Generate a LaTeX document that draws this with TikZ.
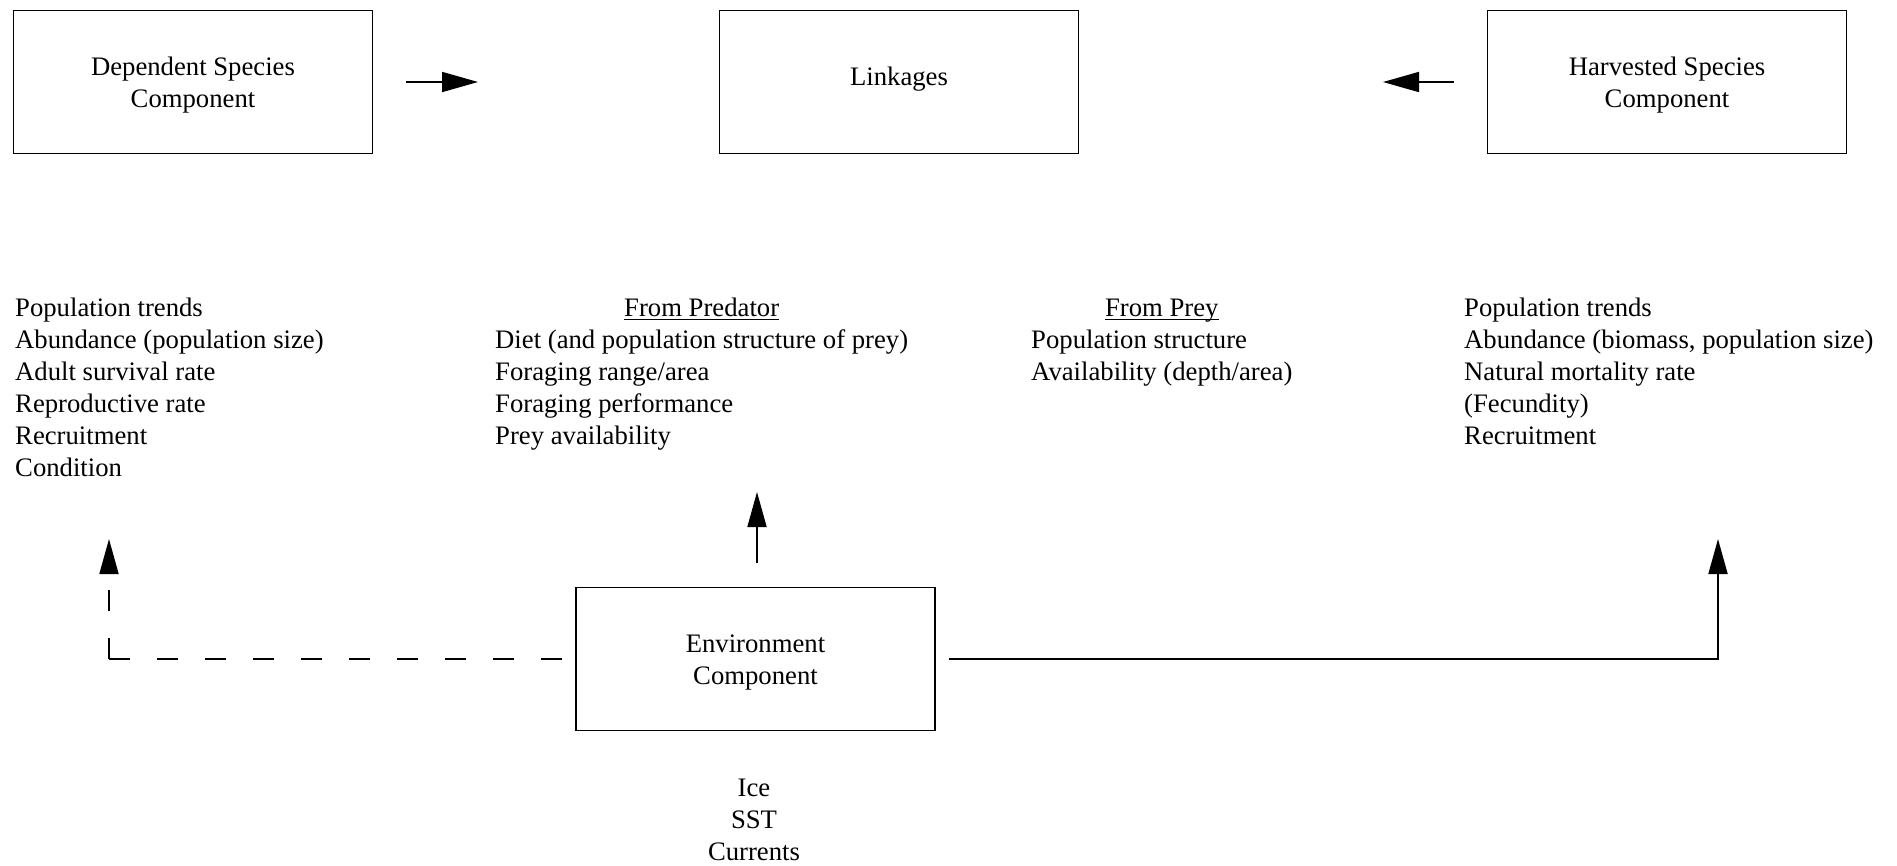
\documentclass[tikz,border=0pt]{standalone}
\usepackage{fontspec}
\setmainfont{Liberation Serif}
\usetikzlibrary{arrows.meta}
\newcommand\hdrul[1]{\setbox0\hbox{#1}\rlap{\rule[-4pt]{\wd0}{1.5pt}}\box0}
\newcommand\boxstrut{\rule{0pt}{25pt}}
\begin{document}
\begin{tikzpicture}[x=1pt,y=-1pt,
  bigfont/.style={font=\fontsize{26.7}{32}\selectfont},
  box/.style={draw, line width=1.8pt, minimum width=359pt, minimum height=143pt, inner sep=0pt, align=center, bigfont},
  txt/.style={inner sep=0pt, anchor=base west, bigfont},
  conn/.style={line width=1.8pt},
  tipH/.style={-{Triangle[length=36pt,width=20pt]}},
  tipV/.style={-{Triangle[length=35pt,width=19pt]}},
  dashline/.style={line width=1.8pt, dash pattern=on 21pt off 27pt}
]
\useasboundingbox (0,0) rectangle (1897,865);

% boxes
\node[box] (dep) at (193,82) {\boxstrut Dependent Species\\Component};
\node[box, text height=17pt, text depth=11pt] (link) at (899,82) {Linkages};
\node[box] (harv) at (1667,82) {\boxstrut Harvested Species\\Component};
\node[box] (env) at (755.5,659) {\boxstrut Environment\\Component};

% lists
\node[txt] (deplist) at (15,316) {\begin{tabular}[t]{@{}l@{}}Population trends\\Abundance (population size)\\Adult survival rate\\Reproductive rate\\Recruitment\\Condition\end{tabular}};
\node[txt] (predlist) at (495,316) {\begin{tabular}[t]{@{}l@{}}\multicolumn{1}{@{}c@{}}{\hdrul{From Predator}}\\Diet (and population structure of prey)\\Foraging range/area\\Foraging performance\\Prey availability\end{tabular}};
\node[txt] (preylist) at (1031,316) {\begin{tabular}[t]{@{}l@{}}\multicolumn{1}{@{}c@{}}{\hdrul{From Prey}}\\Population structure\\Availability (depth/area)\end{tabular}};
\node[txt] (harvlist) at (1464,316) {\begin{tabular}[t]{@{}l@{}}Population trends\\Abundance (biomass, population size)\\Natural mortality rate\\(Fecundity)\\Recruitment\end{tabular}};
\node[inner sep=0pt, anchor=base, bigfont] (envlist) at (754,796) {\begin{tabular}[t]{@{}c@{}}Ice\\SST\\Currents\end{tabular}};

% free arrow ends
\coordinate (linkinL) at (478,82);
\coordinate (linkinR) at (1383,82);
\coordinate (predtip) at (757,492);
\coordinate (deptip) at (109,539);
\coordinate (harvtip) at (1718,539);

% connectors
\draw[conn,tipH] ([xshift=33pt]dep.east) -- (linkinL);
\draw[conn,tipH] ([xshift=-33pt]harv.west) -- (linkinR);
\draw[conn,tipV] ([xshift=1.5pt,yshift=24pt]env.north) -- (predtip);
\draw[dashline] ([xshift=-13pt]env.west) -- (env.west -| deptip);
\draw[dashline,tipV] (env.west -| deptip) -- (deptip);
\draw[conn,tipV] ([xshift=13pt]env.east) -- (env.east -| harvtip) -- (harvtip);
\end{tikzpicture}
\end{document}
